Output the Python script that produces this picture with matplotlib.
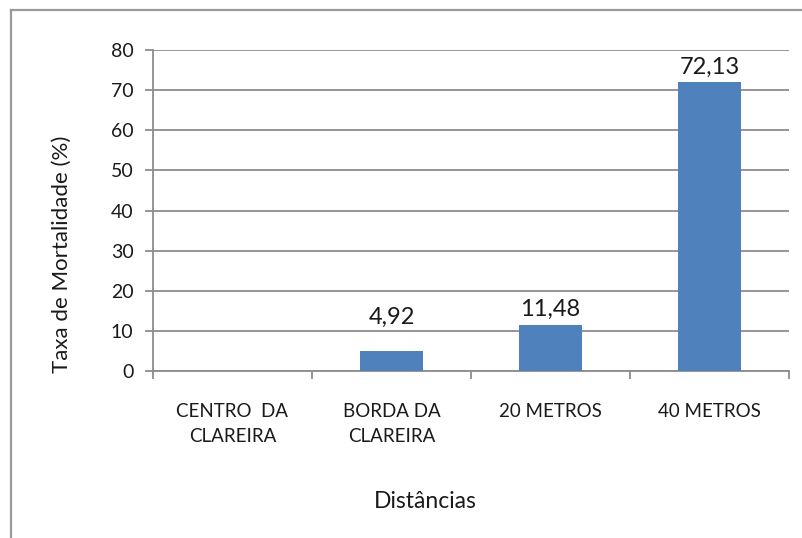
import matplotlib
matplotlib.use("Agg")
import matplotlib.pyplot as plt
from matplotlib.lines import Line2D

plt.rcParams['font.family'] = ['Lato', 'DejaVu Sans']

# taxa de mortalidade por distância
categorias = ["CENTRO  DA\nCLAREIRA", "BORDA DA\nCLAREIRA", "20 METROS", "40 METROS"]
mortalidade = [0, 4.92, 11.48, 72.13]
yticks = [0, 10, 20, 30, 40, 50, 60, 70, 80]

cinza = '#8c8c8c'
azul = '#4f81bd'
texto = '#1a1a1a'

fig = plt.figure(figsize=(8.02, 5.38), dpi=100)
ax = fig.add_axes([153/802, 1 - 371/538, (789 - 153)/802, (371 - 50)/538])

x = list(range(len(categorias)))
ax.bar(x, mortalidade, width=0.4, color=azul, zorder=3)

# rótulos de dados (o de 4,92 fica mais afastado da barra)
afastamento = [4, 17, 4, 3]
for xi, v, d in zip(x, mortalidade, afastamento):
    if v > 0:
        ax.annotate(f"{v:.2f}".replace('.', ','), (xi, v), xytext=(0, d),
                    textcoords='offset points', ha='center', va='bottom',
                    fontsize=17, color=texto)

ax.set_xlim(-0.5, len(categorias) - 0.5)
ax.set_ylim(0, 80)
ax.set_yticks(yticks)
ax.set_yticklabels([str(t) for t in yticks], fontsize=14, color=texto)
ax.yaxis.grid(True, color=cinza, linewidth=1.3, zorder=0)

# marcas do eixo x nos limites das categorias
ax.set_xticks([i - 0.5 for i in range(len(categorias) + 1)])
ax.set_xticklabels([])
ax.tick_params(axis='x', length=6, color=cinza, width=1.3)
ax.tick_params(axis='y', length=6, color=cinza, width=1.3, pad=8)
for xi, nome in zip(x, categorias):
    ax.text(xi, -0.1, nome, transform=ax.get_xaxis_transform(), ha='center',
            va='top', fontsize=13.5, linespacing=1.6, color=texto)

for lado in ['top', 'right']:
    ax.spines[lado].set_visible(False)
for lado in ['left', 'bottom']:
    ax.spines[lado].set_color(cinza)
    ax.spines[lado].set_linewidth(1.3)

fig.text(62/802, 1 - 254/538, "Taxa de Mortalidade (%)", rotation=90,
         ha='center', va='center', fontsize=16, color=texto)
fig.text(425/802, 1 - 502/538, "Distâncias", ha='center', va='center',
         fontsize=16.5, color=texto)

# moldura do gráfico
fig.add_artist(Line2D([11/802, 11/802], [0, 1 - 10/538], color='#999999',
                      linewidth=1.6, transform=fig.transFigure))
fig.add_artist(Line2D([11/802, 1], [1 - 10/538, 1 - 10/538], color='#999999',
                      linewidth=1.6, transform=fig.transFigure))

fig.savefig("out.png", dpi=100)
